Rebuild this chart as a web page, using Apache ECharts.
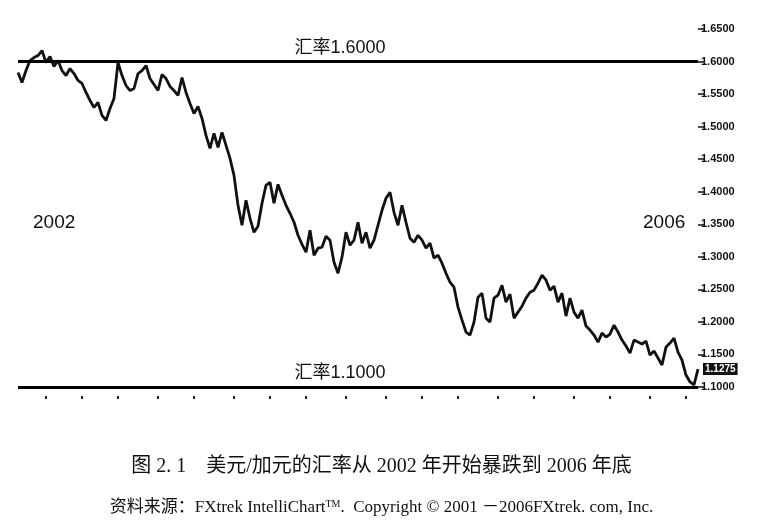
<!DOCTYPE html>
<html>
<head>
<meta charset="utf-8">
<script src="https://cdn.jsdelivr.net/npm/echarts@6/dist/echarts.min.js"></script>
<style>
html,body{margin:0;padding:0;background:#fff;}
#chart{width:763px;height:528px;}
</style>
</head>
<body>
<div id="chart"></div>
<script>
// USD/CAD exchange rate, 2002 -> end of 2006
const rates = [
  1.5831, 1.5678, 1.5862, 1.6015, 1.6061, 1.6092, 1.6169, 1.5985, 1.6077, 1.5923,
  1.6015, 1.5862, 1.5785, 1.5893, 1.5816, 1.5709, 1.5663, 1.5525, 1.5402, 1.5294,
  1.5371, 1.5172, 1.5095, 1.5279, 1.5433, 1.5985, 1.5785, 1.5632, 1.5555, 1.5586,
  1.5816, 1.5862, 1.5939, 1.5739, 1.5647, 1.5555, 1.5801, 1.5739, 1.5617, 1.5555,
  1.5479, 1.5755, 1.5525, 1.5356, 1.5202, 1.5310, 1.5126, 1.4865, 1.4666, 1.4896,
  1.4681, 1.4911, 1.4712, 1.4512, 1.4252, 1.3791, 1.3485, 1.3868, 1.3592, 1.3377,
  1.3469, 1.3822, 1.4098, 1.4144, 1.3822, 1.4113, 1.3945, 1.3791, 1.3669, 1.3531,
  1.3331, 1.3193, 1.3071, 1.3408, 1.3025, 1.3132, 1.3147, 1.3316, 1.3255, 1.2917,
  1.2748, 1.2994, 1.3377, 1.3178, 1.3255, 1.3531, 1.3209, 1.3377, 1.3132, 1.3255,
  1.3485, 1.3715, 1.3899, 1.3991, 1.3684, 1.3485, 1.3791, 1.3531, 1.3285, 1.3224,
  1.3331, 1.3255, 1.3132, 1.3209, 1.2979, 1.3025, 1.2902, 1.2748, 1.2610, 1.2534,
  1.2227, 1.2028, 1.1844, 1.1798, 1.1997, 1.2380, 1.2442, 1.2058, 1.1997, 1.2365,
  1.2411, 1.2564, 1.2304, 1.2426, 1.2058, 1.2150, 1.2242, 1.2365, 1.2457, 1.2488,
  1.2595, 1.2718, 1.2641, 1.2488, 1.2549, 1.2304, 1.2442, 1.2089, 1.2365, 1.2150,
  1.2058, 1.2181, 1.1936, 1.1874, 1.1798, 1.1690, 1.1828, 1.1767, 1.1813, 1.1951,
  1.1844, 1.1721, 1.1629, 1.1521, 1.1721, 1.1690, 1.1660, 1.1706, 1.1491, 1.1552,
  1.1445, 1.1337, 1.1613, 1.1675, 1.1752, 1.1537, 1.1414, 1.1184, 1.1077, 1.1031,
  1.1275
];
const categories = rates.map((_, i) => String(i));
// positions (category indices) of the small tick dots below the chart
const tickIdx = [7, 16, 25, 35, 44, 54, 63, 72, 82, 92, 101, 110, 120, 129, 139, 148, 158, 167];
const rateLines = [1.6, 1.1];
const yearLabels = ['2002', '2006'];
const yMin = 1.10, yMax = 1.65, yStep = 0.05;
const captionText = '图 2. 1    美元/加元的汇率从 2002 年开始暴跌到 2006 年底';

const chart = echarts.init(document.getElementById('chart'), null, {renderer: 'canvas'});
const serif = '"Liberation Serif", "Noto Sans CJK SC", serif';
const sans = '"Liberation Sans", Arial, "Noto Sans CJK SC", sans-serif';

chart.setOption({
  backgroundColor: '#ffffff',
  animation: false,
  grid: {left: 18, right: 65, top: 29, bottom: 141},
  xAxis: {
    type: 'category',
    data: categories,
    boundaryGap: false,
    offset: 9,
    axisLine: {show: false},
    axisLabel: {show: false},
    axisTick: {
      show: true, length: 3, inside: false,
      interval: (idx) => tickIdx.includes(idx),
      lineStyle: {color: '#222', width: 2}
    },
    splitLine: {show: false}
  },
  yAxis: {
    type: 'value',
    position: 'right',
    min: yMin, max: yMax, interval: yStep,
    axisLine: {show: false},
    axisTick: {show: true, length: 6, lineStyle: {color: '#111', width: 1.5}},
    axisLabel: {
      margin: 3,
      color: '#111',
      fontSize: 11,
      fontWeight: 'bold',
      fontFamily: sans,
      formatter: (v) => v.toFixed(4)
    },
    splitLine: {show: false}
  },
  title: [
    {
      text: captionText,
      left: 'center', top: 452,
      textStyle: {fontFamily: serif, fontSize: 20, fontWeight: 'normal', color: '#111'}
    },
    {
      text: '{a|资料来源：FXtrek IntelliChart}{s|TM}{a|.  Copyright © 2001 －2006FXtrek. com, Inc.}',
      left: 'center', top: 494,
      textStyle: {
        fontWeight: 'normal',
        rich: {
          a: {fontFamily: serif, fontSize: 17, fontWeight: 'normal', color: '#111'},
          s: {fontFamily: serif, fontSize: 10, fontWeight: 'normal', color: '#111', verticalAlign: 'top', padding: [0, 0, 8, 0]}
        }
      }
    }
  ],
  graphic: [
    {type: 'text', left: 33, top: 213, style: {text: yearLabels[0], font: '19px "Liberation Sans", Arial', fill: '#111'}},
    {type: 'text', left: 643, top: 213, style: {text: yearLabels[1], font: '19px "Liberation Sans", Arial', fill: '#111'}}
  ],
  series: [{
    type: 'line',
    data: rates,
    symbol: 'none',
    lineStyle: {color: '#111', width: 2.8},
    endLabel: {
      show: true,
      formatter: (p) => Number(p.value).toFixed(4),
      backgroundColor: '#111',
      color: '#fff',
      fontSize: 10,
      fontWeight: 'bold',
      fontFamily: sans,
      padding: [1, 2],
      distance: 5
    },
    markLine: {
      silent: true,
      symbol: 'none',
      animation: false,
      lineStyle: {color: '#000', width: 3, type: 'solid'},
      label: {
        show: true,
        position: 'insideMiddleTop',
        color: '#111',
        fontSize: 18,
        fontFamily: sans,
        distance: 5,
        padding: [0, 36, 0, 0],
        formatter: (p) => '汇率' + Number(p.value).toFixed(4)
      },
      data: rateLines.map(v => ({yAxis: v}))
    }
  }]
});
</script>
</body>
</html>
